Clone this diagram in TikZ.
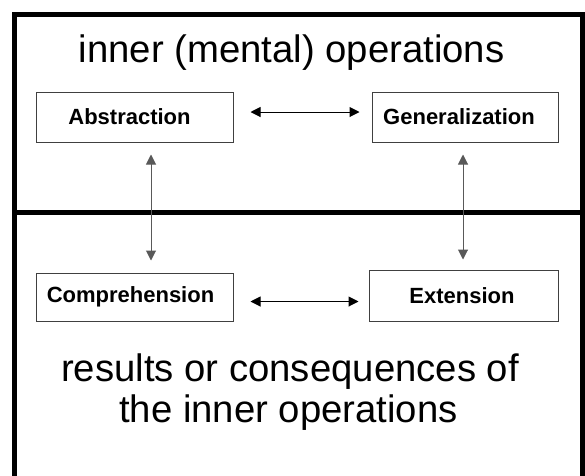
\documentclass[tikz,border=0pt]{standalone}
\usepackage{fontspec}
\setmainfont{Liberation Sans}
\usetikzlibrary{arrows.meta}
\begin{document}
\begin{tikzpicture}[x=1pt,y=-1pt,
  conceptbox/.style={draw=black!75,line width=1pt,inner sep=0pt,
    font=\fontsize{22}{24}\selectfont\bfseries},
  heading/.style={anchor=base,inner sep=0pt,font=\fontsize{38.3}{44}\selectfont},
  linkarrow/.style={line width=1pt,{Triangle[length=10pt,width=10pt]}-{Triangle[length=10pt,width=10pt]}},
  vlink/.style={linkarrow,draw=black!65,fill=black}]
  \useasboundingbox (0,0) rectangle (585,475);
  \begin{scope}
    \clip (0,0) rectangle (585,475);
    % outer frame and the divider between the two zones
    \draw[line width=5pt] (14.5,14.5) rectangle (582.5,520);
    \draw[line width=5pt] (14.5,212) -- (582.5,212);
  \end{scope}

  % headings
  \node[heading] (inner) at (291.5,62) {inner (mental) operations};
  \node[heading] (res1) at (290,381.5) {results or consequences of};
  \node[heading] (res2) at (288.5,422.5) {the inner operations};

  % concept boxes
  \node[conceptbox,minimum width=197pt,minimum height=50pt] (abs) at (134.5,117) {\hspace*{-10pt}Abstraction};
  \node[conceptbox,minimum width=186pt,minimum height=50pt] (gen) at (465,117) {\hspace*{-12pt}Generalization};
  \node[conceptbox,minimum width=197pt,minimum height=48pt] (com) at (134.5,297) {\hspace*{-8pt}Comprehension};
  \node[conceptbox,minimum width=189pt,minimum height=51pt] (ext) at (463.5,295.5) {\hspace*{-3pt}Extension};

  % links
  \draw[linkarrow,shorten <=17pt,shorten >=12pt] ([yshift=5pt]abs.east) -- ([yshift=5pt]gen.west);
  \draw[linkarrow,shorten <=17pt,shorten >=10pt] ([yshift=-4.5pt]com.east) -- ([yshift=-4.5pt]com.east -| ext.west);
  \draw[vlink,shorten <=12pt,shorten >=12pt] ([xshift=16.5pt]abs.south) -- ([xshift=16.5pt]abs.south |- com.north);
  \draw[vlink,shorten <=12pt,shorten >=10pt] ([xshift=-2pt]gen.south) -- ([xshift=-2pt]gen.south |- ext.north);
\end{tikzpicture}
\end{document}
